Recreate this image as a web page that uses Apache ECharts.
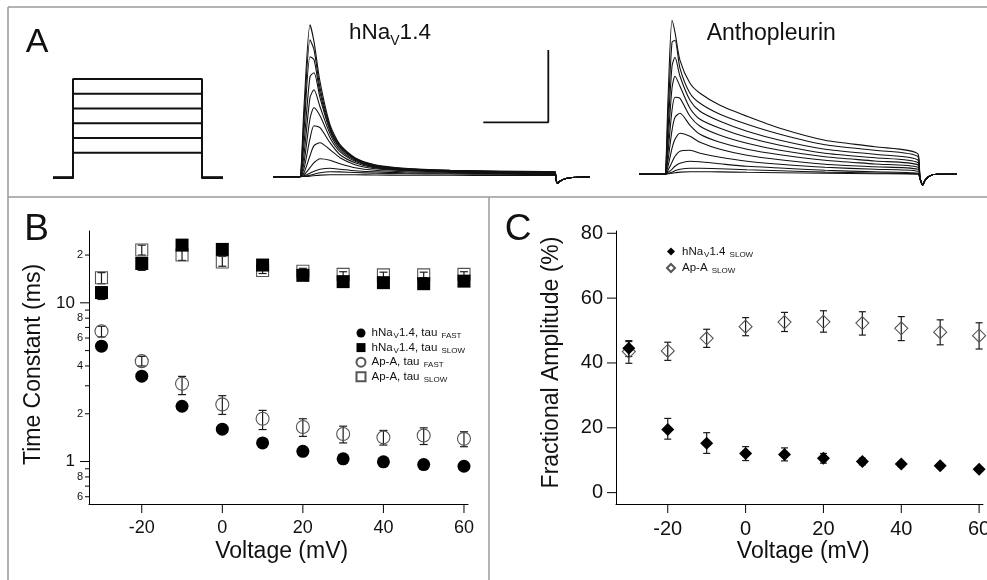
<!DOCTYPE html>
<html>
<head>
<meta charset="utf-8">
<script src="https://cdn.jsdelivr.net/npm/echarts@6/dist/echarts.min.js"></script>
<style>
  html, body { margin: 0; padding: 0; background: #fff; }
  #chart { width: 987px; height: 580px; }
</style>
</head>
<body>
<div id="chart"></div>
<script>
// ---------- panel A: step protocol (ms, mV)
const protoTime = [-20, 0, 129, 150];
const protoHold = -74;
const protoLevels = [-40, -20, 0, 20, 40, 60];

// ---------- panel A: hNaV1.4 current traces (time, current a.u.)
const hnaTime = [-27, -2, 0, 4, 10, 14, 20, 30, 40, 55, 75, 105, 150, 200, 255];
const hnaTraces = [
  [0, 0, 0, 70, 152, 135, 95, 52, 32, 19, 12, 8.5, 6.5, 5.5, 5],
  [0, 0, 0, 58, 137, 127, 89, 50, 31, 18.5, 11.5, 8, 6.3, 5.3, 4.8],
  [0, 0, 0, 46, 120, 117, 84, 48, 30, 18, 11, 7.8, 6, 5.2, 4.6],
  [0, 0, 0, 33, 100, 104, 79, 46, 29, 17.5, 10.5, 7.5, 5.8, 5, 4.4],
  [0, 0, 0, 22, 79, 87, 70, 43, 27, 16.5, 10, 7.2, 5.6, 4.8, 4.2],
  [0, 0, 0, 14, 58, 69, 61, 39, 25, 15.5, 9.5, 7, 5.4, 4.6, 4],
  [0, 0, 0, 8, 38, 51, 49, 34, 22, 14, 8.8, 6.5, 5.2, 4.4, 3.8],
  [0, 0, 0, 4, 21, 31, 34, 27, 19, 12, 8, 6, 4.9, 4.2, 3.6],
  [0, 0, 0, 2, 9, 14, 18, 16.5, 13, 9, 6.5, 5, 4.3, 3.8, 3.3],
  [0, 0, 0, 1, 3.5, 5.5, 7.5, 8.4, 7.5, 6, 4.8, 4, 3.5, 3.1, 2.8],
  [0, 0, 0, 0.5, 1.5, 2.5, 4, 5, 4.8, 4.2, 3.5, 3, 2.7, 2.4, 2.2],
  [0, 0, 0, 0.2, 0.6, 1, 1.6, 2, 2, 1.9, 1.7, 1.5, 1.4, 1.3, 1.2]
];
const hnaTailTime = [256, 257.5, 260, 265, 272, 290];
const hnaTailVal = [-3, -6.5, -4.5, -2, -0.8, -0.3];

// scale bar drawn in the hNaV1.4 trace coordinates
const scaleBarTime = [183.3, 248.3, 248.3];
const scaleBarVal = [54.4, 54.4, 126.7];

// ---------- panel A: Anthopleurin traces
const apTime = [-26, -2, 0, 3, 7, 10, 15, 25, 35, 55, 82, 115, 160, 210, 253];
const apTraces = [
  [0, 0, 0, 75, 154, 142, 114, 91, 81, 69, 58, 46, 34, 27.6, 20.3],
  [0, 0, 0, 58, 132, 134, 106, 81, 71, 60, 50, 40, 29.5, 24, 17.6],
  [0, 0, 0, 44, 108, 117, 98, 74, 63, 53, 43, 34, 25, 20, 14.3],
  [0, 0, 0, 32, 86, 98, 88, 66, 55, 46, 37, 29, 21, 16.5, 11.6],
  [0, 0, 0, 22, 64, 77, 76, 58, 48, 39, 31, 24, 17.5, 13.3, 9.3],
  [0, 0, 0, 14, 44, 57, 61, 49, 40, 32, 25, 19.5, 14, 10.3, 7],
  [0, 0, 0, 8, 26, 35, 41, 38, 32, 25, 19, 14.5, 10, 7.5, 5],
  [0, 0, 0, 4, 12, 18, 23, 24, 21, 17, 13, 10, 7, 5, 3],
  [0, 0, 0, 2, 5, 8, 11, 13, 12.5, 10.5, 8, 6.3, 4, 2.5, 1],
  [0, 0, 0, 1, 2, 3.5, 5, 6, 6, 5.5, 4.5, 3.5, 2.2, 1.3, 0.5],
  [0, 0, 0, 0.5, 1, 1.5, 2.2, 2.6, 2.6, 2.4, 2, 1.6, 1, 0.6, 0.2]
];
const apTailTime = [255, 257.7, 260, 265, 272, 292];
const apTailVal = [-4, -10.7, -6, -1.5, 0, 0];

// ---------- panel B: time constants (ms) vs voltage (mV)
const volts = [-30, -20, -10, 0, 10, 20, 30, 40, 50, 60];
const bNaFast = [5.33, 3.45, 2.23, 1.60, 1.31, 1.16, 1.04, 0.995, 0.957, 0.934];
const bNaFastLo = [5.0, 3.3, 2.15, 1.55, 1.27, 1.13, 1.02, 0.975, 0.94, 0.92];
const bNaFastHi = [5.7, 3.6, 2.32, 1.66, 1.35, 1.19, 1.06, 1.015, 0.975, 0.95];
const bNaSlow = [11.6, 17.7, 23.1, 21.7, 17.3, 14.9, 13.6, 13.4, 13.2, 13.7];
const bNaSlowLo = [10.5, 16.0, 22.0, 20.8, 16.6, 14.4, 13.2, 13.0, 12.8, 13.3];
const bNaSlowHi = [12.6, 19.2, 24.3, 22.6, 18.0, 15.4, 14.0, 13.8, 13.6, 14.1];
const bApFast = [6.62, 4.29, 3.09, 2.29, 1.86, 1.65, 1.49, 1.42, 1.46, 1.39];
const bApFastLo = [6.1, 4.0, 2.64, 1.98, 1.59, 1.44, 1.31, 1.27, 1.28, 1.24];
const bApFastHi = [7.12, 4.6, 3.44, 2.60, 2.10, 1.86, 1.67, 1.57, 1.63, 1.54];
const bApSlow = [14.4, 21.5, 20.0, 18.1, 16.0, 15.8, 15.1, 15.0, 15.0, 15.1];
const bApSlowLo = [13.2, 20.0, 18.5, 17.0, 15.3, 15.2, 14.5, 14.4, 14.4, 14.5];
const bApSlowHi = [15.5, 23.1, 21.6, 19.6, 16.8, 16.5, 15.7, 15.6, 15.6, 15.7];
const bXTicks = [-20, 0, 20, 40, 60];
const bYTicks = [0.6, 0.7, 0.8, 0.9, 1, 2, 3, 4, 5, 6, 7, 8, 9, 10, 20];
const bYTickLabels = ['6', '', '8', '', '1', '2', '', '4', '', '6', '', '8', '', '10', '2'];

// ---------- panel C: fractional amplitude (%) vs voltage (mV)
const cNaSlow = [44.5, 19.5, 15.2, 12.1, 11.8, 10.6, 9.6, 8.8, 8.3, 7.2];
const cNaSlowLo = [42.0, 16.5, 12.1, 9.9, 9.8, 9.1, 8.6, 8.0, 7.6, 6.6];
const cNaSlowHi = [46.9, 22.9, 18.5, 14.2, 13.8, 12.1, 10.6, 9.6, 9.0, 7.8];
const cApSlow = [43.5, 43.7, 47.6, 51.2, 52.6, 52.7, 52.3, 50.7, 49.5, 48.4];
const cApSlowLo = [39.9, 40.8, 44.8, 48.4, 49.7, 49.5, 48.6, 46.9, 45.6, 44.3];
const cApSlowHi = [46.6, 46.4, 50.4, 54.0, 55.6, 56.1, 55.8, 54.3, 53.3, 52.4];
const cXTicks = [-20, 0, 20, 40, 60];
const cYTicks = [0, 20, 40, 60, 80];

const FONT = "'Liberation Sans', Arial, Helvetica, sans-serif";
const INK = '#111';
const FRAME = '#9a9a9a';

// axis extents (layout)
const bXMin = -33.1, bXMax = 61, bYMin = 0.54, bYMax = 28.35;
const cXMin = -33.3, cXMax = 61, cYMin = -3.5, cYMax = 80.7;

const chart = echarts.init(document.getElementById('chart'));

function txt(text, x, y, size, extra) {
  const o = extra || {};
  return {
    type: 'text', x: x, y: y, rotation: o.rotation || 0, silent: true,
    style: {
      text: text, fill: INK, fontSize: size, fontFamily: FONT,
      align: o.align || 'center', textAlign: o.align || 'center',
      verticalAlign: 'middle', textVerticalAlign: 'middle',
      rich: o.rich
    }
  };
}

function frameLine(x1, y1, x2, y2) {
  return { type: 'line', silent: true, shape: { x1: x1, y1: y1, x2: x2, y2: y2 },
    style: { stroke: FRAME, lineWidth: 1.5 } };
}

function traceSeries(gi, times, values, tailT, tailV) {
  const pts = times.map((t, i) => [t, values[i]]);
  tailT.forEach((t, i) => pts.push([t, tailV[i]]));
  return {
    type: 'line', xAxisIndex: gi, yAxisIndex: gi, data: pts, showSymbol: false,
    smooth: 0.25, silent: true, z: 2,
    lineStyle: { color: INK, width: 1.1 }
  };
}

function tickSeries(gi, axis, values, labels, at, opt) {
  return {
    type: 'custom', xAxisIndex: gi, yAxisIndex: gi, silent: true, clip: false, z: 6,
    data: values.map(v => axis === 'x' ? [v, at] : [at, v]),
    renderItem: function (params, api) {
      const p = api.coord([api.value(0), api.value(1)]);
      const v = values[params.dataIndex];
      const lab = labels[params.dataIndex];
      const big = opt.isBig ? opt.isBig(v) : true;
      const len = big ? opt.len : opt.minorLen;
      const children = [];
      const ls = { stroke: '#000', lineWidth: 1 };
      if (axis === 'x') {
        children.push({ type: 'line', shape: { x1: p[0], y1: p[1], x2: p[0], y2: p[1] + len }, style: ls });
        if (lab) children.push(txt(lab, p[0], p[1] + opt.labelOffset, opt.size));
      } else {
        children.push({ type: 'line', shape: { x1: p[0] - len, y1: p[1], x2: p[0], y2: p[1] }, style: ls });
        if (lab) {
          const gap = big ? opt.gap : opt.smallGap;
          children.push(txt(lab, p[0] - len - gap, p[1], big ? opt.size : opt.smallSize, { align: 'right' }));
        }
      }
      return { type: 'group', children: children };
    }
  };
}

function errorSeries(gi, xs, lows, highs, cap, z) {
  return {
    type: 'custom', xAxisIndex: gi, yAxisIndex: gi, silent: true, z: z,
    data: xs.map((x, i) => [x, lows[i], highs[i]]),
    encode: { x: 0, y: [1, 2] },
    renderItem: function (params, api) {
      const lo = api.coord([api.value(0), api.value(1)]);
      const hi = api.coord([api.value(0), api.value(2)]);
      const st = { stroke: '#1a1a1a', lineWidth: 1.2 };
      return {
        type: 'group', children: [
          { type: 'line', shape: { x1: lo[0], y1: lo[1], x2: hi[0], y2: hi[1] }, style: st },
          { type: 'line', shape: { x1: lo[0] - cap, y1: lo[1], x2: lo[0] + cap, y2: lo[1] }, style: st },
          { type: 'line', shape: { x1: hi[0] - cap, y1: hi[1], x2: hi[0] + cap, y2: hi[1] }, style: st }
        ]
      };
    }
  };
}

function scatter(name, gi, ys, symbol, size, filled, z) {
  return {
    name: name, type: 'scatter', xAxisIndex: gi, yAxisIndex: gi,
    data: volts.map((v, i) => [v, ys[i]]),
    symbol: symbol, symbolSize: size, z: z, silent: true,
    itemStyle: filled
      ? { color: '#000', borderColor: '#000', borderWidth: 0, opacity: 1 }
      : { color: 'rgba(0,0,0,0)', borderColor: '#555', borderWidth: 1.1, opacity: 1 }
  };
}

const series = [];

// protocol steps
protoLevels.forEach(L => {
  series.push({
    type: 'line', xAxisIndex: 0, yAxisIndex: 0, showSymbol: false, silent: true,
    lineStyle: { color: INK, width: 2 },
    data: [[protoTime[0], protoHold], [protoTime[1], protoHold], [protoTime[1], L],
           [protoTime[2], L], [protoTime[2], protoHold], [protoTime[3], protoHold]]
  });
});
hnaTraces.forEach(tr => series.push(traceSeries(1, hnaTime, tr, hnaTailTime, hnaTailVal)));
apTraces.forEach(tr => series.push(traceSeries(2, apTime, tr, apTailTime, apTailVal)));
series.push({
  type: 'line', xAxisIndex: 1, yAxisIndex: 1, showSymbol: false, silent: true,
  lineStyle: { color: INK, width: 1.8 },
  data: scaleBarTime.map((t, i) => [t, scaleBarVal[i]])
});

// panel B
series.push(errorSeries(3, volts, bNaFastLo, bNaFastHi, 4, 1));
series.push(errorSeries(3, volts, bNaSlowLo, bNaSlowHi, 4, 1));
series.push(errorSeries(3, volts, bApFastLo, bApFastHi, 4, 2));
series.push(errorSeries(3, volts, bApSlowLo, bApSlowHi, 4, 2));
series.push(scatter('Ap-A, tau FAST', 3, bApFast, 'circle', 13, false, 3));
series.push(scatter('Ap-A, tau SLOW', 3, bApSlow, 'rect', 12, false, 3));
series.push(scatter('hNaV1.4, tau FAST', 3, bNaFast, 'circle', 13, true, 4));
series.push(scatter('hNaV1.4, tau SLOW', 3, bNaSlow, 'rect', 13, true, 4));
series.push(tickSeries(3, 'x', bXTicks, bXTicks.map(String), bYMin,
  { len: 9, labelOffset: 24.5, size: 18 }));
series.push(tickSeries(3, 'y', bYTicks, bYTickLabels, bXMin, {
  isBig: v => Math.abs(Math.log10(v) - Math.round(Math.log10(v))) < 1e-9,
  len: 9, minorLen: 4, gap: 5, smallGap: 2, size: 17, smallSize: 11
}));

// panel C
series.push(errorSeries(4, volts, cApSlowLo, cApSlowHi, 3.5, 2));
series.push(errorSeries(4, volts, cNaSlowLo, cNaSlowHi, 3.5, 2));
series.push(scatter('Ap-A SLOW', 4, cApSlow, 'diamond', 13, false, 3));
series.push(scatter('hNaV1.4 SLOW', 4, cNaSlow, 'diamond', 13, true, 4));
series.push(tickSeries(4, 'x', cXTicks, cXTicks.map(String), cYMin,
  { len: 9, labelOffset: 25, size: 20 }));
series.push(tickSeries(4, 'y', cYTicks, cYTicks.map(String), cXMin,
  { len: 9, gap: 4, size: 20 }));

const legendText = {
  'hNaV1.4, tau FAST': '{f|hNa}{s|V}{n|1.4, tau }{s|FAST}',
  'hNaV1.4, tau SLOW': '{f|hNa}{s|V}{n|1.4, tau }{s|SLOW}',
  'Ap-A, tau FAST': '{f|Ap-A, tau }{s|FAST}',
  'Ap-A, tau SLOW': '{f|Ap-A, tau }{s|SLOW}',
  'hNaV1.4 SLOW': '{f|hNa}{s|V}{n|1.4 }{s|SLOW}',
  'Ap-A SLOW': '{f|Ap-A }{s|SLOW}'
};

const hiddenAxis = { show: false };
const blackLine = { show: true, onZero: false, lineStyle: { color: '#000', width: 1 } };
const plotAxis = {
  axisLine: blackLine, axisTick: { show: false }, axisLabel: { show: false },
  splitLine: { show: false }
};

chart.setOption({
  animation: false,
  backgroundColor: '#fff',
  grid: [
    { left: 53, top: 79, width: 170, height: 98.7 },
    { left: 273, top: 20, width: 317, height: 170 },
    { left: 639, top: 15, width: 318, height: 175 },
    { left: 89, top: 231, width: 379, height: 273 },
    { left: 616, top: 231, width: 367, height: 273 }
  ],
  xAxis: [
    Object.assign({ gridIndex: 0, type: 'value', min: protoTime[0], max: protoTime[3] }, hiddenAxis),
    Object.assign({ gridIndex: 1, type: 'value', min: -27, max: 290 }, hiddenAxis),
    Object.assign({ gridIndex: 2, type: 'value', min: -26, max: 292 }, hiddenAxis),
    Object.assign({ gridIndex: 3, type: 'value', min: bXMin, max: bXMax }, plotAxis),
    Object.assign({ gridIndex: 4, type: 'value', min: cXMin, max: cXMax }, plotAxis)
  ],
  yAxis: [
    Object.assign({ gridIndex: 0, type: 'value', min: protoHold, max: 60 }, hiddenAxis),
    Object.assign({ gridIndex: 1, type: 'value', min: -13.3, max: 156.7 }, hiddenAxis),
    Object.assign({ gridIndex: 2, type: 'value', min: -15.7, max: 159.3 }, hiddenAxis),
    Object.assign({ gridIndex: 3, type: 'log', logBase: 10, min: bYMin, max: bYMax }, plotAxis),
    Object.assign({ gridIndex: 4, type: 'value', min: cYMin, max: cYMax }, plotAxis)
  ],
  legend: [
    {
      data: ['hNaV1.4, tau FAST', 'hNaV1.4, tau SLOW', 'Ap-A, tau FAST', 'Ap-A, tau SLOW'],
      orient: 'vertical', left: 350.5, top: 322, itemWidth: 9, itemHeight: 9, itemGap: 1.6,
      selectedMode: false, formatter: n => legendText[n],
      textStyle: {
        color: INK, fontFamily: FONT, fontSize: 11.5,
        rich: {
          f: { fontSize: 11.5, fontFamily: FONT, color: INK, padding: [0, 0, 0, 1] },
          n: { fontSize: 11.5, fontFamily: FONT, color: INK },
          s: { fontSize: 8, fontFamily: FONT, color: INK, padding: [6, 0, 0, 1] }
        }
      }
    },
    {
      data: ['hNaV1.4 SLOW', 'Ap-A SLOW'],
      orient: 'vertical', left: 661, top: 240.5, itemWidth: 8, itemHeight: 8, itemGap: 3.5,
      selectedMode: false, formatter: n => legendText[n],
      textStyle: {
        color: INK, fontFamily: FONT, fontSize: 11.5,
        rich: {
          f: { fontSize: 11.5, fontFamily: FONT, color: INK, padding: [0, 0, 0, 2] },
          n: { fontSize: 11.5, fontFamily: FONT, color: INK },
          s: { fontSize: 8, fontFamily: FONT, color: INK, padding: [6, 0, 0, 1] }
        }
      }
    }
  ],
  graphic: [
    frameLine(8, 7, 987, 7),
    frameLine(8, 7, 8, 580),
    frameLine(8, 197, 987, 197),
    frameLine(489, 197, 489, 580),
    txt('A', 37, 42.5, 34),
    txt('B', 36.5, 230, 37),
    txt('C', 518, 230, 37),
    txt('{n|hNa}{s|V}{n|1.4}', 349, 33, 22, {
      align: 'left',
      rich: {
        n: { fontSize: 22.5, fontFamily: FONT, fill: INK, color: INK },
        s: { fontSize: 14, fontFamily: FONT, fill: INK, color: INK, padding: [17, 0, 0, 0] }
      }
    }),
    txt('Anthopleurin', 706.7, 33.3, 23, { align: 'left' }),
    txt('Time Constant (ms)', 34, 364.5, 23, { rotation: Math.PI / 2 }),
    txt('Voltage (mV)', 281.7, 551.7, 23),
    txt('Fractional Amplitude (%)', 551.7, 362.5, 23, { rotation: Math.PI / 2 }),
    txt('Voltage (mV)', 803.3, 551.7, 23)
  ],
  series: series
});
</script>
</body>
</html>
